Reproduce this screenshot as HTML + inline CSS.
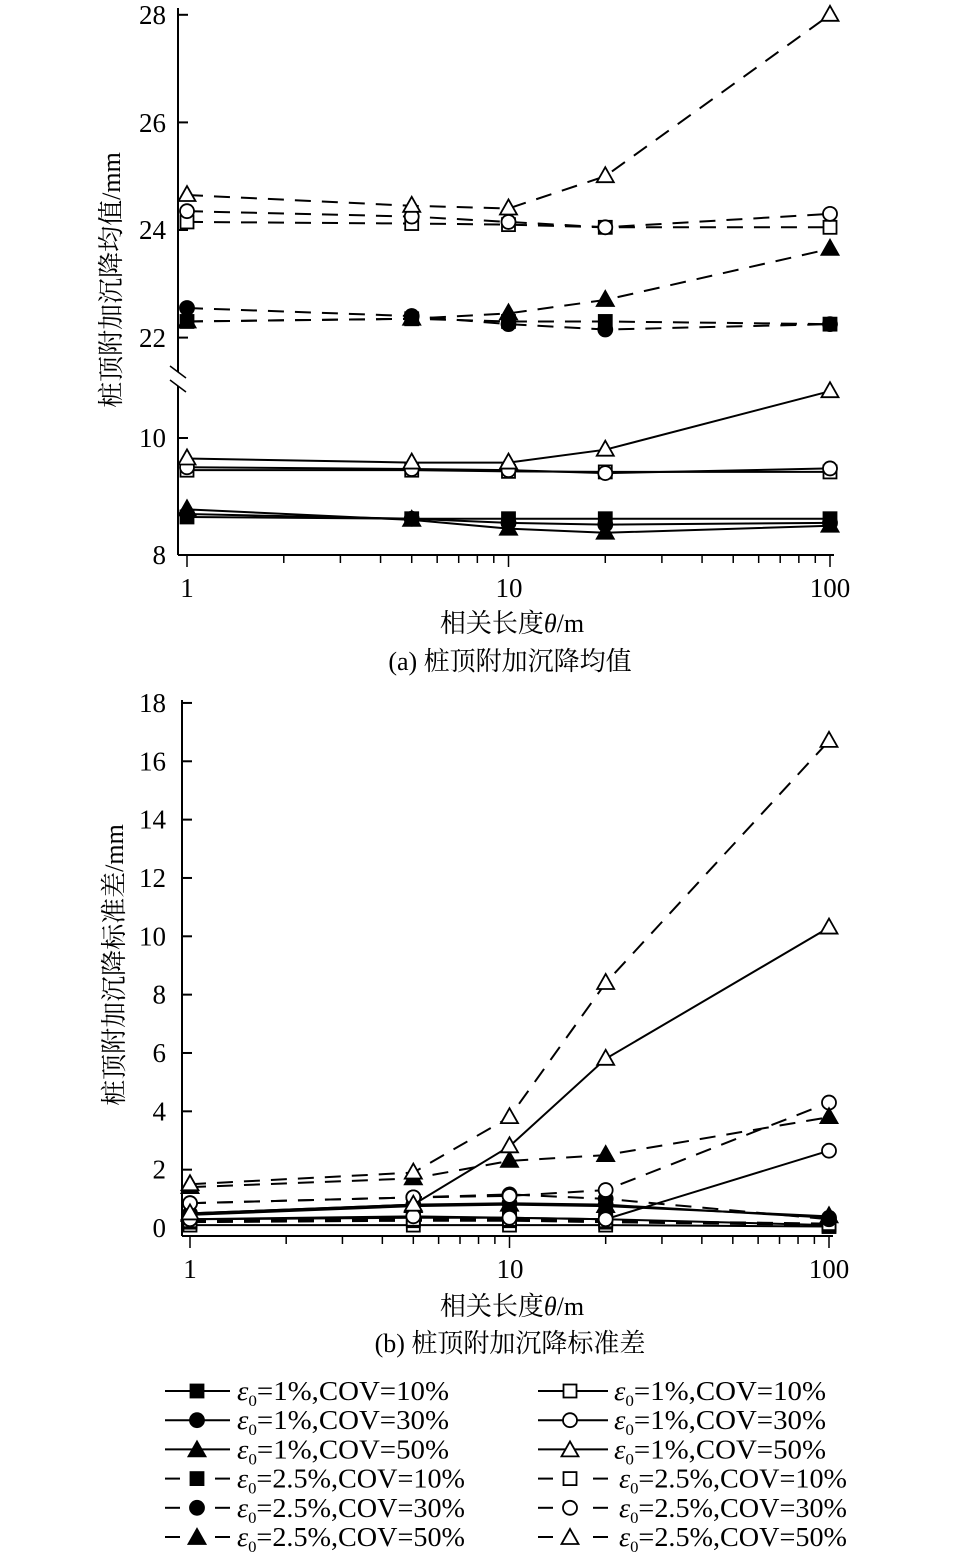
<!DOCTYPE html>
<html><head><meta charset="utf-8"><style>
html,body{margin:0;padding:0;background:#fff;}
svg{display:block;font-family:"Liberation Serif","Noto Serif CJK SC",serif;}
</style></head><body>
<svg id="s" width="957" height="1556" viewBox="0 0 957 1556" xmlns="http://www.w3.org/2000/svg">
<g id="g" stroke="#000" fill="none" stroke-width="2"></g>
<g id="t" font-size="27" fill="#000">
<text x="187" y="597" text-anchor="middle">1</text>
<text x="509" y="597" text-anchor="middle">10</text>
<text x="830" y="597" text-anchor="middle">100</text>
<text x="166" y="24" text-anchor="end">28</text>
<text x="166" y="132" text-anchor="end">26</text>
<text x="166" y="239" text-anchor="end">24</text>
<text x="166" y="347" text-anchor="end">22</text>
<text x="166" y="447" text-anchor="end">10</text>
<text x="166" y="564" text-anchor="end">8</text>
<text x="512" y="632" text-anchor="middle" font-size="26">相关长度<tspan font-style="italic">θ</tspan>/m</text>
<text x="510" y="670" text-anchor="middle" font-size="26">(a) 桩顶附加沉降均值</text>
<text transform="translate(120,280) rotate(-90)" text-anchor="middle" font-size="26">桩顶附加沉降均值/mm</text>
<text x="190" y="1278" text-anchor="middle">1</text>
<text x="510" y="1278" text-anchor="middle">10</text>
<text x="829" y="1278" text-anchor="middle">100</text>
<text x="512" y="1315" text-anchor="middle" font-size="26">相关长度<tspan font-style="italic">θ</tspan>/m</text>
<text x="510" y="1352" text-anchor="middle" font-size="26">(b) 桩顶附加沉降标准差</text>
<text transform="translate(123,965) rotate(-90)" text-anchor="middle" font-size="26">桩顶附加沉降标准差/mm</text>
</g>
</svg>
<script>
var g=document.getElementById('g'),t=document.getElementById('t');
function el(n,a,p){var e=document.createElementNS('http://www.w3.org/2000/svg',n);for(var k in a)e.setAttribute(k,a[k]);(p||g).appendChild(e);return e;}
function line(x1,y1,x2,y2,w){el('line',{x1:x1,y1:y1,x2:x2,y2:y2,'stroke-width':w||2});}
function marker(type,filled,x,y){var f=filled?'#000':'#fff';
 if(type=='s')el('rect',{x:x-6.5,y:y-6.5,width:13,height:13,fill:f,'stroke-width':1.8});
 else if(type=='c')el('circle',{cx:x,cy:y,r:7,fill:f,'stroke-width':1.8});
 else el('polygon',{points:(x)+','+(y-9)+' '+(x-8.5)+','+(y+6)+' '+(x+8.5)+','+(y+6),fill:f,'stroke-width':1.8});}
function series(xs,ys,dash,type,filled){el('polyline',{points:xs.map(function(x,i){return x+','+ys[i]}).join(' '),'stroke-dasharray':dash?'16,11':'none','stroke-width':2});
 xs.forEach(function(x,i){marker(type,filled,x,ys[i]);});}
var th=[1,5,10,20,100];
var xa=th.map(function(v){return 187+321.5*Math.log10(v)});
function yU(v){return 230-(v-24)*53.8} function yL(v){return 555-(v-8)*58.5}
line(178,8,178,372);line(178,386,178,555);
line(170,366,186,378,1.5);line(170,380,186,392,1.5);
line(178,555,834,555);
[28,26,24,22].forEach(function(v){line(178,yU(v),188,yU(v))});
[10,8].forEach(function(v){line(178,yL(v),188,yL(v))});
function xticks(y0,base,dec,dir){for(var d=0;d<2;d++)for(var k=1;k<=10;k++){if(d==1&&k==1)continue;var x=base+dec*(d+Math.log10(k));var L=(k==1||k==10)?12:8;line(x,y0,x,y0+dir*L,1.5);}}
xticks(555,187,321.5,1);
var A=[
['s',0,[24.15,24.12,24.1,24.05,24.05],1],['c',0,[24.35,24.25,24.15,24.05,24.3],1],['t',0,[24.65,24.45,24.4,25.0,28.0],1],
['s',1,[22.3,22.35,22.3,22.3,22.25],1],['c',1,[22.55,22.4,22.25,22.15,22.25],1],['t',1,[22.3,22.35,22.45,22.7,23.65],1],
['s',0,[9.45,9.45,9.43,9.42,9.42],0],['c',0,[9.5,9.47,9.45,9.4,9.48],0],['t',0,[9.65,9.58,9.58,9.8,10.8],0],
['s',1,[8.65,8.62,8.62,8.62,8.62],0],['c',1,[8.7,8.62,8.55,8.52,8.55],0],['t',1,[8.78,8.6,8.45,8.38,8.5],0]];
A.forEach(function(s){series(xa,s[2].map(s[3]?yU:yL),s[3],s[0],s[1]);});
var xb=th.map(function(v){return 190+319.5*Math.log10(v)});
function yb(v){return 1228-v*29.17}
line(182,700,182,1236);line(182,1236,833,1236);
for(var v=0;v<=18;v+=2){line(182,yb(v),192,yb(v));el('text',{x:166,y:yb(v)+9,'text-anchor':'end',stroke:'none',fill:'#000'},t).textContent=v;}
xticks(1236,190,319.5,1);
var B=[
['s',0,[0.1,0.1,0.1,0.1,0.05],0],['s',1,[0.3,0.35,0.35,0.3,0.1],0],
['s',1,[0.2,0.25,0.25,0.2,0.1],1],['s',0,[0.25,0.3,0.3,0.25,0.15],1],
['c',1,[0.5,0.8,0.85,0.8,0.35],0],['t',1,[0.45,0.75,0.8,0.75,0.4],0],
['c',0,[0.3,0.4,0.35,0.3,2.65],0],['c',1,[0.85,1.05,1.15,1.0,0.3],1],
['c',0,[0.85,1.05,1.1,1.3,4.3],1],['t',1,[1.4,1.7,2.3,2.5,3.8],1],
['t',0,[0.5,0.8,2.8,5.8,10.3],0],['t',0,[1.5,1.9,3.8,8.4,16.7],1]];
B.forEach(function(s){series(xb,s[2].map(yb),s[3],s[0],s[1]);});
var L=[['s',1,0,'1%','10%'],['c',1,0,'1%','30%'],['t',1,0,'1%','50%'],['s',1,1,'2.5%','10%'],['c',1,1,'2.5%','30%'],['t',1,1,'2.5%','50%']];
L.forEach(function(l,i){var y=1391+i*29.2;
 [[165,230,197,237,1],[538,608,570,614,0]].forEach(function(c){
  if(l[2]){line(c[0],y,c[0]+15,y);line(c[1]-15,y,c[1],y);} else line(c[0],y,c[1],y);
  marker(l[0],c[4],c[2],y+(l[0]=='t'?1:0));
  var tx=el('text',{x:c[3]+(l[2]&&!c[4]?5:0),y:y+9,stroke:'none',fill:'#000','font-size':27,textLength:(l[2]?228:212),lengthAdjust:'spacingAndGlyphs'},t);
  tx.innerHTML='<tspan font-style="italic">ε</tspan><tspan font-size="16" dy="6">0</tspan><tspan dy="-6">='+l[3]+',COV='+l[4]+'</tspan>';
 });});
</script>
</body></html>
